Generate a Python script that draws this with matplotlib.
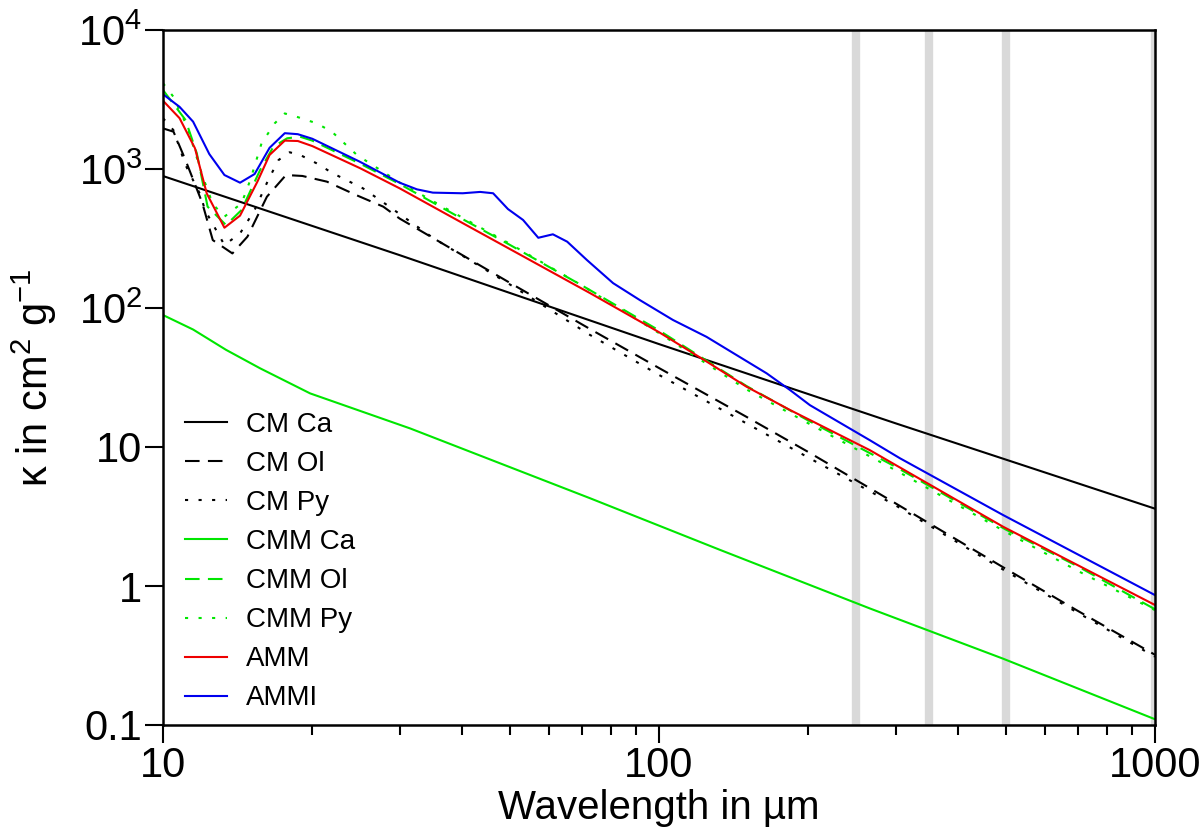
import matplotlib
matplotlib.use("Agg")
import matplotlib.pyplot as plt
from matplotlib.ticker import FixedLocator, NullLocator, FixedFormatter

plt.rcParams['font.family'] = ['Liberation Sans', 'DejaVu Sans']
plt.rcParams['mathtext.fontset'] = 'custom'
plt.rcParams['mathtext.rm'] = 'Liberation Sans'
plt.rcParams['mathtext.it'] = 'Liberation Sans'
plt.rcParams['mathtext.default'] = 'regular'

# wavelengths in micron, kappa in cm^2/g
cm_ca_wl = [10, 30, 100, 300, 1000]
cm_ca = [890, 240, 55, 14.8, 3.6]

cm_ol_wl = [10, 10.5, 11.1, 12.0, 12.6, 13.8, 14.8, 16.2, 17.7, 19.1, 21.4, 24.5,
            27.8, 30, 50, 72.6, 100, 150, 200, 292, 500, 700, 1000]
cm_ol = [1960, 1855, 1160, 570, 308, 247, 326, 632, 905, 891, 811, 650,
         536, 440, 152, 70.6, 37, 16.5, 9.2, 4.16, 1.33, 0.66, 0.32]

cm_py_wl = [10, 10.5, 11.1, 11.9, 12.15, 13.3, 14.3, 15.3, 16.3, 17.1, 18.0, 19.0,
            20.4, 22.0, 25.3, 28.6, 35, 50, 72.6, 100, 150, 200, 300, 500, 700, 1000]
cm_py = [2320, 1900, 1069, 650, 507, 284, 344, 507, 834, 1161, 1320, 1250,
         1099, 931, 726, 536, 320, 148, 64, 33, 14.8, 8.4, 3.8, 1.28, 0.64, 0.31]

cmm_ca_wl = [10, 11.5, 13.4, 15.7, 19.8, 31.5, 72.6, 132.7, 266, 494, 1000]
cmm_ca = [89, 70, 50, 36.8, 24.3, 13.6, 4.28, 1.82, 0.69, 0.30, 0.11]

cmm_ol_wl = [10, 11.1, 11.7, 12.3, 13.4, 14.4, 15.7, 16.7, 17.8, 18.9, 20, 25,
             30, 40, 50, 70, 100, 150, 200, 300, 500, 700, 1000]
cmm_ol = [3700, 2255, 1297, 536, 395, 507, 985, 1449, 1664, 1707, 1600, 1090,
          780, 440, 285, 145, 69, 27.5, 15.5, 7.2, 2.55, 1.38, 0.68]

cmm_py_wl = [10, 10.5, 11.2, 12.0, 12.6, 13.3, 14.4, 15.0, 15.8, 16.8, 17.6, 18.6,
             20.4, 21.9, 24.6, 30, 40, 50, 70, 100, 150, 200, 300, 500, 700, 1000]
cmm_py = [4140, 3300, 2000, 900, 560, 454, 566, 834, 1530, 2133, 2510, 2376,
          2133, 1855, 1262, 800, 450, 290, 145, 66, 26, 14.8, 6.8, 2.45, 1.28, 0.67]

amm_wl = [10, 10.8, 11.6, 12.25, 13.3, 14.3, 15.5, 16.4, 17.6, 18.7, 20, 25,
          30, 40, 50, 72.6, 100, 125, 150, 184, 266, 292, 494, 1000]
amm = [3100, 2320, 1410, 668, 378, 462, 811, 1262, 1600, 1590, 1462, 1011,
       726, 412, 266, 128, 67, 41, 27.2, 18.4, 9.5, 7.84, 2.67, 0.73]

ammi_wl = [10, 10.8, 11.5, 12.4, 13.3, 14.3, 15.3, 16.4, 17.6, 18.7, 20, 24.9,
           30, 32.5, 35, 40.2, 43.6, 46.3, 49.6, 53.2, 57.1, 61.1, 65.3, 71.6,
           80.8, 91.5, 106.7, 124.7, 164.8, 183.7, 201.5, 266, 306, 494, 1000]
ammi = [3450, 2800, 2190, 1280, 905, 797, 920, 1420, 1810, 1780, 1650, 1131,
        797, 714, 676, 669, 684, 669, 515, 430, 320, 339, 300, 221,
        151, 114, 82, 62, 33.9, 25.7, 20.0, 11.2, 8.3, 3.24, 0.86]

band_wl = [250, 350, 500, 1000]

green = '#00e600'

fig = plt.figure(figsize=(12, 8.39), dpi=100)
ax = fig.add_axes([163 / 1200, 1 - 725 / 839, 992 / 1200, 695 / 839])

for b in band_wl:
    ax.axvline(b, color='#d9d9d9', lw=6, zorder=0)

lw = 1.5
ax.plot(cm_ca_wl, cm_ca, color='black', lw=lw, label='CM Ca')
ax.plot(cm_ol_wl, cm_ol, color='black', lw=lw, dashes=(7, 4), label='CM Ol')
ax.plot(cm_py_wl, cm_py, color='black', lw=lw, dashes=(1.5, 5), label='CM Py')
ax.plot(cmm_ca_wl, cmm_ca, color=green, lw=lw, label='CMM Ca')
ax.plot(cmm_ol_wl, cmm_ol, color=green, lw=lw, dashes=(7, 4), label='CMM Ol')
ax.plot(cmm_py_wl, cmm_py, color=green, lw=lw, dashes=(1.5, 5), label='CMM Py')
ax.plot(amm_wl, amm, color='#ee0000', lw=lw, label='AMM')
ax.plot(ammi_wl, ammi, color='#0000ee', lw=lw, label='AMMI')

ax.set_xscale('log')
ax.set_yscale('log')
ax.set_xlim(10, 1000)
ax.set_ylim(0.1, 1e4)

ax.xaxis.set_major_locator(FixedLocator([10, 100, 1000]))
ax.xaxis.set_major_formatter(FixedFormatter(['10', '100', '1000']))
ax.xaxis.set_minor_locator(FixedLocator([20, 30, 40, 50, 60, 70, 80, 90,
                                         200, 300, 400, 500, 600, 700, 800, 900]))
ax.yaxis.set_major_locator(FixedLocator([0.1, 1, 10, 100, 1000, 10000]))
ax.yaxis.set_major_formatter(FixedFormatter(['0.1', '1', '10', '$10^2$', '$10^3$', '$10^4$']))
ax.yaxis.set_minor_locator(NullLocator())

ax.tick_params(which='both', direction='out', width=1.5, labelsize=30, pad=2)
ax.tick_params(which='major', length=13)
ax.tick_params(which='minor', length=7)
for s in ax.spines.values():
    s.set_linewidth(1.8)

ax.set_xlabel('Wavelength in µm', fontsize=29, labelpad=2)
ax.set_ylabel('κ in cm$^2$ g$^{-1}$', fontsize=30, labelpad=14)

ax.legend(loc='upper left', bbox_to_anchor=(22 / 992, (725 - 412) / 695),
          frameon=False, fontsize=20, handlelength=1.5, handletextpad=0.7,
          labelspacing=0.47, borderpad=0, borderaxespad=0)

fig.savefig('out.png', dpi=100)
